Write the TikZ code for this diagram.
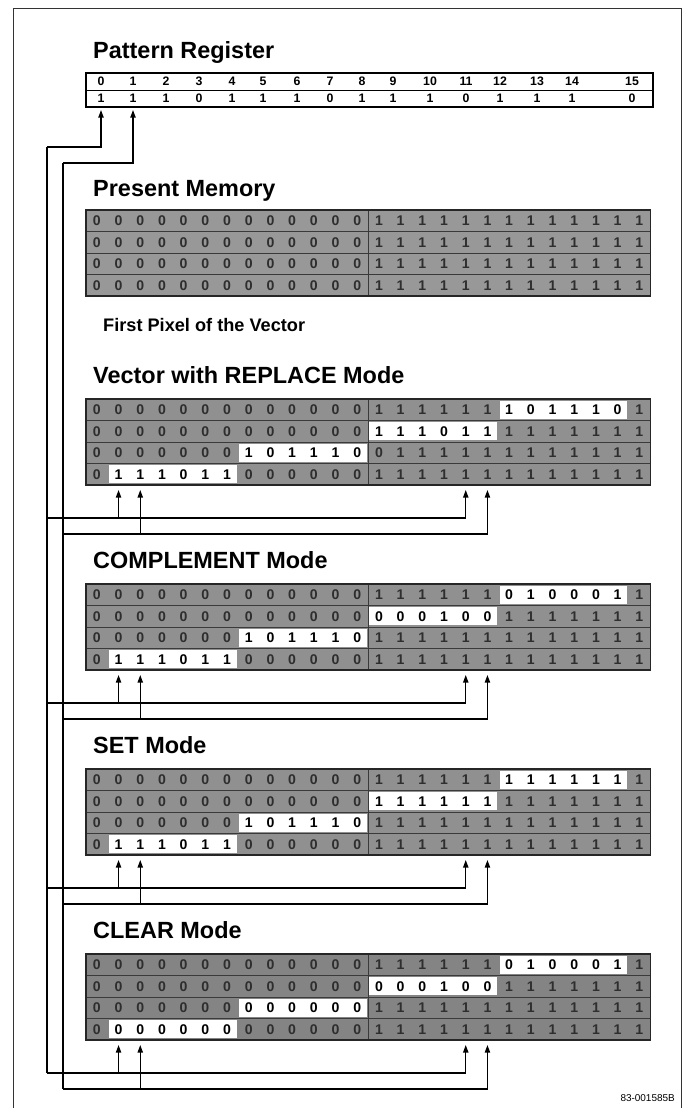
\documentclass[tikz,border=0pt]{standalone}
\usepackage{fontspec}
\setmainfont{Liberation Sans}
\usetikzlibrary{arrows.meta}
\definecolor{cellgray}{HTML}{909090}
\definecolor{cleargray}{HTML}{848484}
\definecolor{memgray}{HTML}{989898}
\definecolor{graydigit}{HTML}{2E2E2E}
\definecolor{rowline}{HTML}{3A3A3A}
\newcommand\gx{86}
\newcommand\cw{21.7}
\newcommand\rh{21.5}
% one row of a memory grid: #1 top, #2 first white column (-1 = none), #3 digits, #4 name
\newcommand\memrow[4]{%
  \ifnum#2>-1
    \fill[white] ({\gx+#2*\cw+1.2},{#1+1.6}) rectangle ({\gx+(#2+6)*\cw-1.2},{#1+\rh-1.6});
  \fi
  \foreach \d [count=\i from 0] in {#3}{%
    \pgfmathtruncatemacro\inw{and(and(\i>=#2,\i<#2+6),#2>-1)}%
    \ifnum\inw=1\relax
      \node[dig,text=black] (#4-\i) at ({\gx+(\i+0.5)*\cw},{#1+\rh/2}) {\d};
    \else
      \node[dig,text=graydigit] (#4-\i) at ({\gx+(\i+0.5)*\cw},{#1+\rh/2}) {\d};
    \fi
  }%
}
% background and lines of a grid: #1 top, #2 colour
\newcommand\gridback[2]{%
  \fill[#2] (\gx,#1) rectangle ({\gx+26*\cw},{#1+4*\rh});
  \foreach \r in {1,2,3}{\draw[rowsep] (\gx,{#1+\r*\rh}) -- ({\gx+26*\cw},{#1+\r*\rh});}
  \draw[rowsep] ({\gx+13*\cw},#1) -- ({\gx+13*\cw},{#1+4*\rh});
}
\newcommand\gridborder[1]{%
  \draw[gridedge] (\gx,#1) rectangle ({\gx+26*\cw},{#1+4*\rh});
}
\begin{document}
\begin{tikzpicture}[x=0.03cm,y=-0.03cm,
  title/.style={anchor=base west, inner sep=0pt, font=\fontsize{20}{24}\selectfont\bfseries},
  sub/.style={anchor=base west, inner sep=0pt, font=\fontsize{15.5}{18}\selectfont\bfseries},
  dig/.style={inner sep=0pt, font=\fontsize{12}{12}\selectfont\bfseries},
  pdig/.style={inner sep=0pt, font=\fontsize{10.5}{11}\selectfont\bfseries},
  rowsep/.style={draw=rowline, line width=0.7pt},
  gridedge/.style={draw=black!85, line width=1pt},
  wire/.style={draw=black, line width=1.1pt},
  arr/.style={wire, -{Triangle[length=6.5pt,width=4.5pt]}},
  frame/.style={draw=black!80, line width=0.8pt}]
\useasboundingbox (0,0) rectangle (686,1108);
\fill[white] (0,0) rectangle (686,1108);
\draw[frame] (13,1108) -- (13,8) -- (681,8) -- (681,1108);

% ---------- Pattern Register ----------
\node[title] (t-preg) at (93,58) {Pattern Register};
\draw[line width=1pt] (86,73) rectangle (653,107);
\draw[line width=0.8pt] (86,90) -- (653,90);
\foreach \x/\v/\lab in {101/1/0,133/1/1,166/1/2,199/0/3,232/1/4,263/1/5,297/1/6,330/0/7,362/1/8,393/1/9,430/1/10,466/0/11,500/1/12,537/1/13,572/1/14,632/0/15}{%
  \node[pdig] (ph\lab) at (\x,81.5) {\lab};
  \node[pdig] (pv\lab) at (\x,98.5) {\v};
}
\coordinate (preg-tip) at (0,110);
\coordinate (busA0) at (47,147);
\coordinate (busB0) at (63,163);
\draw[arr] (busA0) -| (pv0 |- preg-tip);
\draw[arr] (busB0) -| (pv1 |- preg-tip);

% ---------- Present Memory ----------
\node[title] (t-mem) at (93,196) {Present Memory};
\gridback{210}{memgray}
\memrow{210}{-1}{0,0,0,0,0,0,0,0,0,0,0,0,0,1,1,1,1,1,1,1,1,1,1,1,1,1}{pm1}
\memrow{231.5}{-1}{0,0,0,0,0,0,0,0,0,0,0,0,0,1,1,1,1,1,1,1,1,1,1,1,1,1}{pm2}
\memrow{253}{-1}{0,0,0,0,0,0,0,0,0,0,0,0,0,1,1,1,1,1,1,1,1,1,1,1,1,1}{pm3}
\memrow{274.5}{-1}{0,0,0,0,0,0,0,0,0,0,0,0,0,1,1,1,1,1,1,1,1,1,1,1,1,1}{pm4}
\gridborder{210}
\node[sub] (t-first) at (103,331) {First Pixel of the Vector};

% ---------- REPLACE ----------
\node[title] (t-rep) at (93,383) {Vector with REPLACE Mode};
\gridback{399}{cellgray}
\memrow{399}{19}{0,0,0,0,0,0,0,0,0,0,0,0,0,1,1,1,1,1,1,1,0,1,1,1,0,1}{rp1}
\memrow{420.5}{13}{0,0,0,0,0,0,0,0,0,0,0,0,0,1,1,1,0,1,1,1,1,1,1,1,1,1}{rp2}
\memrow{442}{7}{0,0,0,0,0,0,0,1,0,1,1,1,0,0,1,1,1,1,1,1,1,1,1,1,1,1}{rp3}
\memrow{463.5}{1}{0,1,1,1,0,1,1,0,0,0,0,0,0,1,1,1,1,1,1,1,1,1,1,1,1,1}{rp4}
\gridborder{399}

% ---------- COMPLEMENT ----------
\node[title] (t-com) at (93,568) {COMPLEMENT Mode};
\gridback{584}{cellgray}
\memrow{584}{19}{0,0,0,0,0,0,0,0,0,0,0,0,0,1,1,1,1,1,1,0,1,0,0,0,1,1}{cm1}
\memrow{605.5}{13}{0,0,0,0,0,0,0,0,0,0,0,0,0,0,0,0,1,0,0,1,1,1,1,1,1,1}{cm2}
\memrow{627}{7}{0,0,0,0,0,0,0,1,0,1,1,1,0,1,1,1,1,1,1,1,1,1,1,1,1,1}{cm3}
\memrow{648.5}{1}{0,1,1,1,0,1,1,0,0,0,0,0,0,1,1,1,1,1,1,1,1,1,1,1,1,1}{cm4}
\gridborder{584}

% ---------- SET ----------
\node[title] (t-set) at (93,753) {SET Mode};
\gridback{769}{cellgray}
\memrow{769}{19}{0,0,0,0,0,0,0,0,0,0,0,0,0,1,1,1,1,1,1,1,1,1,1,1,1,1}{st1}
\memrow{790.5}{13}{0,0,0,0,0,0,0,0,0,0,0,0,0,1,1,1,1,1,1,1,1,1,1,1,1,1}{st2}
\memrow{812}{7}{0,0,0,0,0,0,0,1,0,1,1,1,0,1,1,1,1,1,1,1,1,1,1,1,1,1}{st3}
\memrow{833.5}{1}{0,1,1,1,0,1,1,0,0,0,0,0,0,1,1,1,1,1,1,1,1,1,1,1,1,1}{st4}
\gridborder{769}

% ---------- CLEAR ----------
\node[title] (t-clr) at (93,938) {CLEAR Mode};
\gridback{954}{cleargray}
\memrow{954}{19}{0,0,0,0,0,0,0,0,0,0,0,0,0,1,1,1,1,1,1,0,1,0,0,0,1,1}{cl1}
\memrow{975.5}{13}{0,0,0,0,0,0,0,0,0,0,0,0,0,0,0,0,1,0,0,1,1,1,1,1,1,1}{cl2}
\memrow{997}{7}{0,0,0,0,0,0,0,0,0,0,0,0,0,1,1,1,1,1,1,1,1,1,1,1,1,1}{cl3}
\memrow{1018.5}{1}{0,0,0,0,0,0,0,0,0,0,0,0,0,1,1,1,1,1,1,1,1,1,1,1,1,1}{cl4}
\gridborder{954}

% ---------- connectors ----------
\foreach \b/\B in {rp/485,cm/670,st/855,cl/1040}{%
  \coordinate (\b-tip) at (0,\B+5);
  \coordinate (\b-la) at (47,\B+33);
  \coordinate (\b-lb) at (63,\B+49);
  \draw[arr] (\b-la) -| (\b4-17 |- \b-tip);
  \draw[arr] (\b4-1 |- \b-la) -- (\b4-1 |- \b-tip);
  \draw[arr] (\b-lb) -| (\b4-18 |- \b-tip);
  \draw[arr] (\b4-2 |- \b-lb) -- (\b4-2 |- \b-tip);
}
\draw[wire] (busA0) -- (cl-la);
\draw[wire] (busB0) -- (cl-lb);

\node[anchor=base east, inner sep=0pt, font=\fontsize{8.5}{9}\selectfont] (code) at (675,1101) {83-001585B};
\end{tikzpicture}
\end{document}
